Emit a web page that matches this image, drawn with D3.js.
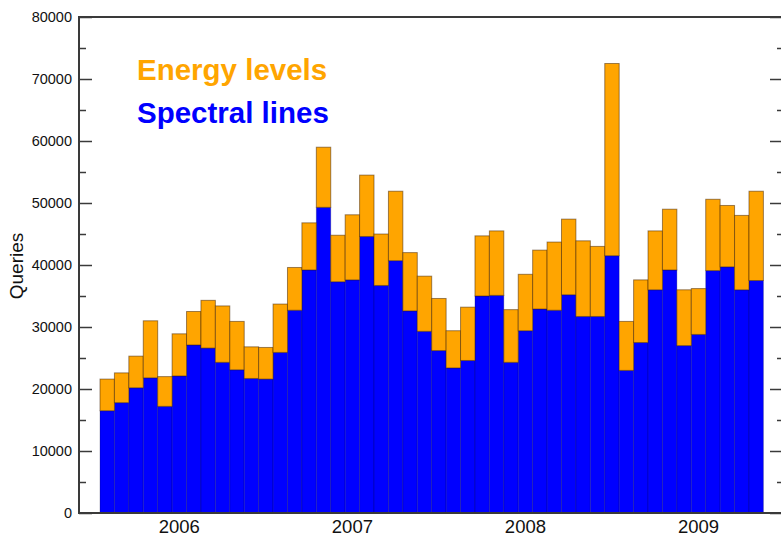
<!DOCTYPE html>
<html>
<head>
<meta charset="utf-8">
<script src="https://cdn.jsdelivr.net/npm/d3@7"></script>
<style>
  body { margin: 0; background: #fff; }
  svg { display: block; font-family: "Liberation Sans", Arial, sans-serif; }
</style>
</head>
<body>
<div id="chart-area"></div>
<script>
// months Aug 2005 .. May 2009
var months = [
	'2005-08','2005-09','2005-10','2005-11','2005-12',
	'2006-01','2006-02','2006-03','2006-04','2006-05','2006-06','2006-07','2006-08','2006-09','2006-10','2006-11','2006-12',
	'2007-01','2007-02','2007-03','2007-04','2007-05','2007-06','2007-07','2007-08','2007-09','2007-10','2007-11','2007-12',
	'2008-01','2008-02','2008-03','2008-04','2008-05','2008-06','2008-07','2008-08','2008-09','2008-10','2008-11','2008-12',
	'2009-01','2009-02','2009-03','2009-04','2009-05'
];

var spectral = [
	16500, 17800, 20200, 21800, 17200,
	22100, 27100, 26600, 24300, 23100, 21700, 21600, 25900, 32700, 39200, 49300, 37300,
	37600, 44600, 36700, 40700, 32600, 29300, 26200, 23400, 24600, 35000, 35100, 24300,
	29400, 32900, 32700, 35200, 31700, 31700, 41500, 23000, 27500, 36000, 39200, 27000,
	28800, 39100, 39700, 36000, 37500
];

var energy = [
	5100, 4800, 5100, 9200, 4800,
	6800, 5400, 7700, 9100, 7800, 5100, 5100, 7800, 6900, 7600, 9700, 7500,
	10500, 9900, 8300, 11200, 9400, 8900, 8400, 6000, 8600, 9700, 10400, 8500,
	9100, 9500, 11000, 12200, 12200, 11300, 31000, 7900, 10100, 9500, 9800, 9000,
	7400, 11500, 9900, 12000, 14400
];

var yearTicks = ['2006-01', '2007-01', '2008-01', '2009-01'];
var yTicks = [0, 10000, 20000, 30000, 40000, 50000, 60000, 70000, 80000];
var yMinorTicks = [5000, 15000, 25000, 35000, 45000, 55000, 65000, 75000];

var width = 781;
var height = 537;
var frame = { left: 79, right: 782, top: 17, bottom: 513 };

var svg = d3.select('#chart-area')
	.append('svg')
	.attr('width', width)
	.attr('height', height);

var data = months.map((m, i) => ({ month: m, spectral: spectral[i], energy: energy[i] }));

var stack = d3.stack().keys(['spectral', 'energy']);
var series = stack(data);

var x = d3.scaleBand()
	.domain(months)
	.range([100, 763.4])
	.padding(0);

var y = d3.scaleLinear()
	.domain([0, 80000])
	.range([frame.bottom, frame.top]);

var colors = { spectral: '#0000ff', energy: '#ffa500' };
var strokes = { spectral: 'rgba(0,0,60,0.25)', energy: 'rgba(60,30,0,0.5)' };

svg.append('g')
	.selectAll('g')
	.data(series)
	.enter()
		.append('g')
		.attr('fill', d => colors[d.key])
		.attr('stroke', d => strokes[d.key])
		.selectAll('rect')
		.data(d => d)
		.enter()
			.append('rect')
			.attr('x', d => x(d.data.month))
			.attr('y', d => y(d[1]))
			.attr('width', x.bandwidth())
			.attr('height', d => y(d[0]) - y(d[1]))
			.attr('stroke-width', 1);

// frame
svg.append('rect')
	.attr('x', frame.left)
	.attr('y', frame.top)
	.attr('width', frame.right - frame.left)
	.attr('height', frame.bottom - frame.top)
	.attr('fill', 'none')
	.attr('stroke', '#3a3a3a')
	.attr('stroke-width', 2);

// left axis, ticks pointing in
var yAxis = d3.axisLeft(y)
	.tickValues(yTicks)
	.tickSizeInner(-13)
	.tickSizeOuter(0)
	.tickPadding(7)
	.tickFormat(d3.format('d'));

var gy = svg.append('g')
	.attr('transform', 'translate(' + frame.left + ',0)')
	.call(yAxis);
gy.select('.domain').remove();
gy.selectAll('line').attr('stroke', '#3a3a3a').attr('stroke-width', 1.5);
gy.selectAll('text').attr('font-size', 14.5).attr('fill', '#111')
	.attr('font-family', '"Liberation Sans", Arial, sans-serif');

var gyMinor = svg.append('g')
	.attr('transform', 'translate(' + frame.left + ',0)')
	.call(d3.axisLeft(y).tickValues(yMinorTicks).tickSizeInner(-7).tickSizeOuter(0).tickFormat(''));
gyMinor.select('.domain').remove();
gyMinor.selectAll('line').attr('stroke', '#3a3a3a').attr('stroke-width', 1.5);

// right axis, ticks pointing in
var gr = svg.append('g')
	.attr('transform', 'translate(' + frame.right + ',0)')
	.call(d3.axisRight(y).tickValues(yTicks).tickSizeInner(-12).tickSizeOuter(0).tickFormat(''));
gr.select('.domain').remove();
gr.selectAll('line').attr('stroke', '#3a3a3a').attr('stroke-width', 1.5);

var grMinor = svg.append('g')
	.attr('transform', 'translate(' + frame.right + ',0)')
	.call(d3.axisRight(y).tickValues(yMinorTicks).tickSizeInner(-5).tickSizeOuter(0).tickFormat(''));
grMinor.select('.domain').remove();
grMinor.selectAll('line').attr('stroke', '#3a3a3a').attr('stroke-width', 1.5);

// year labels under January bars
var gx = svg.append('g')
	.attr('transform', 'translate(0,' + frame.bottom + ')')
	.call(d3.axisBottom(x).tickValues(yearTicks).tickSize(0).tickPadding(7).tickFormat(d => d.slice(0, 4)));
gx.select('.domain').remove();
gx.selectAll('text').attr('font-size', 18.5).attr('fill', '#111')
	.attr('font-family', '"Liberation Sans", Arial, sans-serif');

// y label
svg.append('text')
	.attr('transform', 'translate(23,266) rotate(-90)')
	.attr('text-anchor', 'middle')
	.attr('font-size', 19)
	.attr('fill', '#111')
	.text('Queries');

// legend
svg.append('text')
	.attr('x', 137)
	.attr('y', 80)
	.attr('font-size', 29.5)
	.attr('font-weight', 'bold')
	.attr('fill', colors.energy)
	.text('Energy levels');

svg.append('text')
	.attr('x', 137)
	.attr('y', 123)
	.attr('font-size', 29.5)
	.attr('font-weight', 'bold')
	.attr('fill', colors.spectral)
	.text('Spectral lines');
</script>
</body>
</html>
